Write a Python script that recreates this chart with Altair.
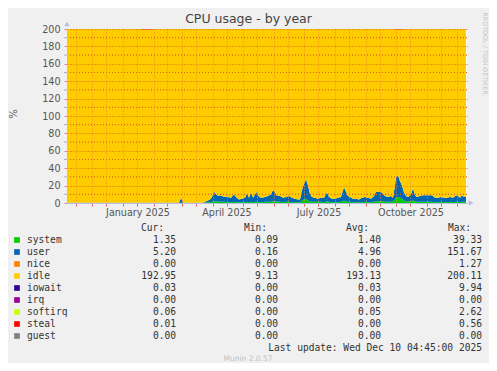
import altair as alt
import pandas as pd

# ---------------- data ----------------
dates = [
    "2024-11-06", "2024-12-01", "2025-01-01", "2025-01-19", "2025-01-20", "2025-01-31",
    "2025-02-01", "2025-02-26", "2025-02-28", "2025-03-02", "2025-03-22", "2025-03-24",
    "2025-03-27", "2025-03-29", "2025-03-31", "2025-04-02", "2025-04-04", "2025-04-06",
    "2025-04-08", "2025-04-10", "2025-04-13", "2025-04-16", "2025-04-19", "2025-04-22",
    "2025-04-24", "2025-04-27", "2025-04-30", "2025-05-03", "2025-05-05", "2025-05-07",
    "2025-05-09", "2025-05-11", "2025-05-13", "2025-05-15", "2025-05-17", "2025-05-20",
    "2025-05-23", "2025-05-26", "2025-05-29", "2025-05-31", "2025-06-02", "2025-06-04",
    "2025-06-07", "2025-06-10", "2025-06-13", "2025-06-16", "2025-06-19", "2025-06-22",
    "2025-06-25", "2025-06-27", "2025-06-29", "2025-07-01", "2025-07-03", "2025-07-05",
    "2025-07-07", "2025-07-09", "2025-07-12", "2025-07-15", "2025-07-18", "2025-07-21",
    "2025-07-24", "2025-07-26", "2025-07-29", "2025-08-01", "2025-08-04", "2025-08-07",
    "2025-08-10", "2025-08-12", "2025-08-14", "2025-08-16", "2025-08-19", "2025-08-22",
    "2025-08-25", "2025-08-28", "2025-08-31", "2025-09-03", "2025-09-06", "2025-09-09",
    "2025-09-11", "2025-09-14", "2025-09-17", "2025-09-20", "2025-09-23", "2025-09-26",
    "2025-09-28", "2025-09-30", "2025-10-01", "2025-10-03", "2025-10-05", "2025-10-07",
    "2025-10-09", "2025-10-11", "2025-10-13", "2025-10-16", "2025-10-18", "2025-10-20",
    "2025-10-22", "2025-10-25", "2025-10-28", "2025-10-31", "2025-11-03", "2025-11-06",
    "2025-11-09", "2025-11-12", "2025-11-15", "2025-11-18", "2025-11-21", "2025-11-24",
    "2025-11-27", "2025-11-30", "2025-12-02", "2025-12-04", "2025-12-06", "2025-12-08",
    "2025-12-10",
]
user = [
    0.2, 0.2, 0.2, 0.2, 0.2, 0.2,
    0.2, 0.2, 5.7, 0.2, 0.2, 1.0,
    2.0, 3.0, 5.5, 11, 8, 6.5,
    7.5, 6.5, 5.5, 6, 5, 8.5,
    6, 3, 4, 5, 9.5, 5,
    10.5, 5, 8.5, 11.5, 6, 5,
    5.5, 6.5, 8.5, 13, 10, 6.5,
    6.5, 5, 5.5, 6.5, 5, 4,
    3, 3, 12, 18, 22, 17,
    8, 5.5, 4.5, 3.5, 4.5, 5,
    10, 5.5, 4, 4, 5, 5.5,
    15, 11, 6.5, 5.5, 4, 4,
    3, 5, 5.5, 5, 4, 6.5,
    11, 11, 10, 6.5, 5.5, 6.5,
    4, 16, 24, 25, 19, 15,
    9, 6, 5, 8, 14, 7,
    5.5, 6.5, 7.5, 7.5, 7.5, 7.5,
    5, 5, 5.5, 5, 5, 5.5,
    5, 7.5, 6.5, 5, 7.5, 5.5,
    5.5,
]
system = [
    0.1, 0.1, 0.1, 0.1, 0.1, 0.1,
    0.1, 0.1, 0.3, 0.1, 0.1, 0.5,
    1, 1, 1.5, 2, 2, 1.5,
    1.5, 1.5, 1.5, 1, 1, 1.5,
    1, 1, 1, 1, 1.5, 1,
    1.5, 1, 1.5, 1.5, 1, 1,
    1.5, 1.5, 1.5, 2, 2, 1.5,
    1.5, 1, 1.5, 1.5, 1, 1,
    1, 1, 3, 4, 5, 3,
    2, 1.5, 1.5, 1.5, 1.5, 1,
    2, 1.5, 1, 1, 1, 1.5,
    3, 2, 1.5, 1.5, 1, 1,
    1, 1, 1.5, 1, 1, 1.5,
    2, 2, 2, 1.5, 1.5, 1.5,
    2, 4, 6, 7, 6, 5,
    3, 2, 2, 2, 3, 2,
    1.5, 1.5, 1.5, 1.5, 1.5, 1.5,
    1, 1, 1.5, 1, 1, 1.5,
    1, 1.5, 1.5, 1, 1.5, 1.5,
    1.5,
]
steal_dates = ["2025-01-20", "2025-01-31", "2025-10-01", "2025-10-03",
               "2025-10-05", "2025-10-07", "2025-10-09"]
steal_vals = [0.56, 0.56, 0.5, 0.56, 0.5, 0.4, 0.3]
CPU_TOTAL = 200

series = ["system", "user", "nice", "idle", "iowait", "irq", "softirq", "steal", "guest"]
colors = ["#00CC00", "#0066B3", "#FF8000", "#FFCC00", "#330099", "#990099",
          "#CCFF00", "#FF0000", "#808080"]
cur = [1.35, 5.20, 0.00, 192.95, 0.03, 0.00, 0.06, 0.01, 0.00]
mins = [0.09, 0.16, 0.00, 9.13, 0.00, 0.00, 0.00, 0.00, 0.00]
avgs = [1.40, 4.96, 0.00, 193.13, 0.03, 0.00, 0.05, 0.00, 0.00]
maxs = [39.33, 151.67, 1.27, 200.11, 9.94, 0.00, 2.62, 0.56, 0.00]

y_labels = [0, 20, 40, 60, 80, 100, 120, 140, 160, 180, 200]
y_minor = [10, 30, 50, 70, 90, 110, 130, 150, 170, 190]
month_starts = ["2024-12-01", "2025-01-01", "2025-02-01", "2025-03-01", "2025-04-01",
                "2025-05-01", "2025-06-01", "2025-07-01", "2025-08-01", "2025-09-01",
                "2025-10-01", "2025-11-01", "2025-12-01"]
mid_months = ["2024-11-15", "2024-12-15", "2025-01-15", "2025-02-14", "2025-03-15",
              "2025-04-15", "2025-05-15", "2025-06-15", "2025-07-15", "2025-08-15",
              "2025-09-15", "2025-10-15", "2025-11-15"]
month_label_dates = ["2025-01-16", "2025-04-15", "2025-07-16", "2025-10-16"]
month_labels = ["January 2025", "April 2025", "July 2025", "October 2025"]
x_start, x_end = "2024-11-06", "2025-12-11"

title_text = "CPU usage - by year"
last_update = "Last update: Wed Dec 10 04:45:00 2025"
munin_ver = "Munin 2.0.57"
watermark = "RRDTOOL / TOBI OETIKER"

# ---------------- build tables ----------------
steal_map = dict(zip(steal_dates, steal_vals))
rows = []
for i, d in enumerate(dates):
    st = steal_map.get(d, 0.0)
    vals = {"system": system[i], "user": user[i], "nice": 0.0, "iowait": 0.0,
            "irq": 0.0, "softirq": 0.0, "steal": st, "guest": 0.0}
    vals["idle"] = CPU_TOTAL - sum(vals.values())
    for k, s in enumerate(series):
        rows.append({"date": d, "series": s, "value": vals[s], "ord": k})
df = pd.DataFrame(rows)


def dt(s):
    y, m, d = (int(p) for p in s.split("-"))
    return alt.DateTime(year=y, month=m, date=d, utc=True)


W, H = 400, 174
AXIS_COL = "#B4BCE8"
GRID_COL = "#EE8A2A"
HGRID_COL = "#D2661A"
xscale = alt.Scale(type="utc", domain=[dt(x_start), dt(x_end)])
yscale = alt.Scale(domain=[0, 200], nice=False, zero=True)

x_grid_dates = sorted(month_starts + mid_months)
XAX = alt.Axis(values=[dt(m) for m in x_grid_dates], labels=False,
               grid=True, gridDash=[1, 2], gridColor=GRID_COL, gridOpacity=1, gridWidth=1,
               zindex=1, title=None, domainColor=AXIS_COL, tickColor="#E86060",
               tickSize=3, ticks=True)
YAX = alt.Axis(values=y_labels, title=None, format="d",
               grid=True, gridDash=[1, 2], gridColor=HGRID_COL, gridOpacity=1,
               gridWidth=1.2, zindex=1, labelOverlap=False, labelFlush=False,
               domainColor=AXIS_COL, tickColor="#E08080", tickSize=3,
               labelFont="DejaVu Sans", labelFontSize=9.6,
               labelColor="#555555", labelPadding=4)

area = alt.Chart(df).mark_area(clip=True, interpolate="linear").encode(
    x=alt.X("date:T", scale=xscale, axis=XAX),
    y=alt.Y("value:Q", stack="zero", scale=yscale, axis=YAX),
    color=alt.Color("series:N", scale=alt.Scale(domain=series, range=colors), legend=None),
    order=alt.Order("ord:Q", sort="ascending"),
)

hgrid_minor = alt.Chart(pd.DataFrame({"v": y_minor})).mark_rule(
    strokeDash=[1, 2], stroke=HGRID_COL, strokeWidth=1.2, opacity=1).encode(
    y=alt.Y("v:Q", scale=yscale, axis=YAX), x=alt.value(0), x2=alt.value(W))
ytick_minor = alt.Chart(pd.DataFrame({"v": y_minor})).mark_rule(
    stroke="#B0B0B0", strokeWidth=1).encode(
    y=alt.Y("v:Q", scale=yscale, axis=YAX), x=alt.value(-3), x2=alt.value(0))

xlabels = alt.Chart(pd.DataFrame({"d": month_label_dates, "t": month_labels})).mark_text(
    font="DejaVu Sans", fontSize=9.6, color="#555555", baseline="middle", align="center"
).encode(x=alt.X("d:T", scale=xscale, axis=XAX), y=alt.value(183.5), text="t:N")

arrow_y = alt.Chart(pd.DataFrame({"a": [1]})).mark_point(
    shape="triangle-up", filled=True, color=AXIS_COL, size=28, opacity=1
).encode(x=alt.value(0), y=alt.value(-5))
arrow_x = alt.Chart(pd.DataFrame({"a": [1]})).mark_point(
    shape="triangle-right", filled=True, color=AXIS_COL, size=28, opacity=1
).encode(x=alt.value(404), y=alt.value(174))

title = alt.Chart(pd.DataFrame({"t": [title_text]})).mark_text(
    font="DejaVu Sans", fontSize=12.5, color="#444444", align="center", baseline="middle"
).encode(x=alt.value(181.5), y=alt.value(-10), text="t:N")
ylab = alt.Chart(pd.DataFrame({"t": ["%"]})).mark_text(
    font="DejaVu Sans", fontSize=10, color="#555555", align="center", baseline="middle",
    angle=270).encode(x=alt.value(-53), y=alt.value(85), text="t:N")
wm = alt.Chart(pd.DataFrame({"t": [watermark]})).mark_text(
    font="DejaVu Sans", fontSize=6.4, color="#C4C4C4", align="center", baseline="middle",
    angle=90).encode(x=alt.value(417.5), y=alt.value(24.5), text="t:N")

# ---------------- legend table ----------------
leg = pd.DataFrame({"name": series, "color": colors, "cur": cur, "min": mins,
                    "avg": avgs, "max": maxs, "row": list(range(len(series)))})
lbase = alt.Chart(leg).transform_calculate(py="211 + 12 * datum.row")
LFONT = dict(font="DejaVu Sans Mono", fontSize=9.6, color="#333333", baseline="middle")
sq = lbase.mark_square(size=32, opacity=1).encode(
    x=alt.value(-50), y=alt.Y("py:Q", scale=None, axis=None),
    fill=alt.Fill("color:N", scale=None))
names = lbase.mark_text(align="left", **LFONT).encode(
    x=alt.value(-40), y=alt.Y("py:Q", scale=None, axis=None), text="name:N")
cols = []
for field, xr in zip(["cur", "min", "avg", "max"], [109, 211, 314, 415]):
    cols.append(lbase.mark_text(align="right", **LFONT).encode(
        x=alt.value(xr), y=alt.Y("py:Q", scale=None, axis=None),
        text=alt.Text(f"{field}:Q", format=".2f")))
headers = []
for h, xr in zip(["Cur:", "Min:", "Avg:", "Max:"], [97, 200, 302, 404]):
    headers.append(alt.Chart(pd.DataFrame({"t": [h]})).mark_text(align="right", **LFONT)
                   .encode(x=alt.value(xr), y=alt.value(199), text="t:N"))
upd = alt.Chart(pd.DataFrame({"t": [last_update]})).mark_text(align="right", **LFONT).encode(
    x=alt.value(415), y=alt.value(319), text="t:N")
mv = alt.Chart(pd.DataFrame({"t": [munin_ver]})).mark_text(
    font="DejaVu Sans", fontSize=7.5, color="#C0C0C0", align="center", baseline="middle"
).encode(x=alt.value(181), y=alt.value(330), text="t:N")

chart = alt.layer(
    area, hgrid_minor, ytick_minor, xlabels,
    arrow_y, arrow_x, title, ylab, wm, sq, names, *cols, *headers, upd, mv
).properties(
    width=W, height=H,
    autosize=alt.AutoSizeParams(type="none"),
    padding={"left": 59, "top": 21, "right": 22, "bottom": 160},
    background="#F0F0F0",
).configure_view(stroke=None, fill="white")

chart.save("out.html", embed_options={"renderer": "svg", "actions": False})
